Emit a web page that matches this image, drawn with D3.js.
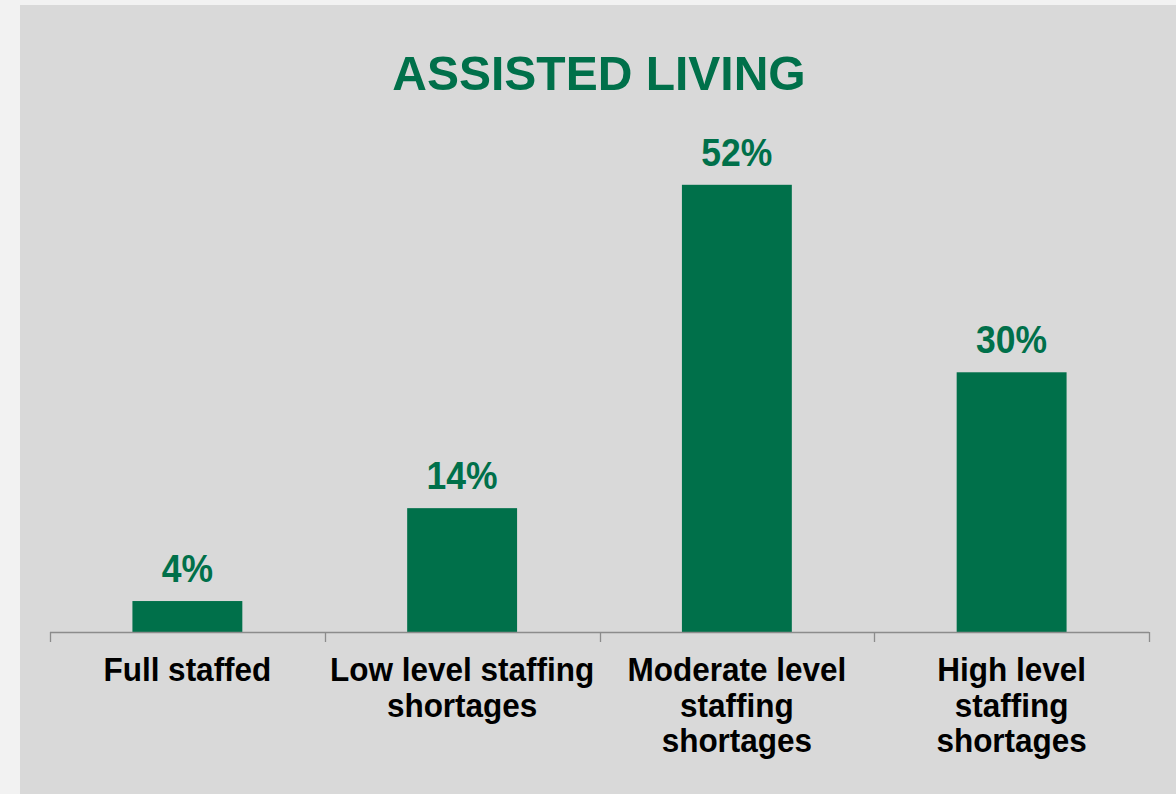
<!DOCTYPE html>
<html>
<head>
<meta charset="utf-8">
<script src="https://cdn.jsdelivr.net/npm/d3@7"></script>
<style>
  html, body { margin: 0; padding: 0; background: #f2f2f2; }
  svg { display: block; }
</style>
</head>
<body>
<svg id="chart" width="1176" height="794"></svg>
<script>
const title = "ASSISTED LIVING";
const categories = ["Full staffed", "Low level staffing shortages", "Moderate level staffing shortages", "High level staffing shortages"];
const categoryLines = [
  ["Full staffed"],
  ["Low level staffing", "shortages"],
  ["Moderate level", "staffing", "shortages"],
  ["High level", "staffing", "shortages"]
];
const values = [0.036, 0.144, 0.52, 0.302];

const W = 1176, H = 794;
const green = "#00704a";
const font = "Liberation Sans, Arial, sans-serif";
const svg = d3.select("#chart");

svg.append("rect").attr("x", 0).attr("y", 0).attr("width", W).attr("height", H).attr("fill", "#f2f2f2");
svg.append("rect").attr("x", 20).attr("y", 5).attr("width", W - 20).attr("height", H - 5).attr("fill", "#d9d9d9");

const x = d3.scaleBand().domain(categories).range([50, 1149]).paddingInner(0.6).paddingOuter(0.3);
const y = d3.scaleLinear().domain([0, 0.6]).range([632, 116]);
const fmt = d3.format(".0%");

svg.append("text")
  .attr("transform", "translate(599,90) scale(1,1.02)")
  .attr("text-anchor", "middle")
  .attr("font-family", font)
  .attr("font-weight", "bold").attr("font-size", 48)
  .attr("fill", green)
  .text(title);

svg.selectAll("rect.bar").data(values).join("rect")
  .attr("class", "bar")
  .attr("x", (d, i) => x(categories[i]))
  .attr("width", x.bandwidth())
  .attr("y", d => y(d))
  .attr("height", d => y(0) - y(d))
  .attr("fill", green);

svg.selectAll("text.val").data(values).join("text")
  .attr("class", "val")
  .attr("transform", (d, i) => `translate(${x(categories[i]) + x.bandwidth() / 2},${y(d) - 19}) scale(1,1.08)`)
  .attr("text-anchor", "middle")
  .attr("font-family", font)
  .attr("font-weight", "bold").attr("font-size", 35.5)
  .attr("fill", green)
  .text(d => fmt(d));

// axis
const axisG = svg.append("g");
const r = x.range();
axisG.append("line").attr("x1", r[0]).attr("x2", r[1]).attr("y1", y(0) + 0.5).attr("y2", y(0) + 0.5)
  .attr("stroke", "#8c8c8c").attr("stroke-width", 1.3);
const bounds = d3.range(categories.length + 1).map(i => r[0] + i * x.step());
axisG.selectAll("line.tick").data(bounds).join("line")
  .attr("class", "tick")
  .attr("x1", d => Math.round(d) + 0.5).attr("x2", d => Math.round(d) + 0.5)
  .attr("y1", y(0)).attr("y2", y(0) + 10)
  .attr("stroke", "#8c8c8c").attr("stroke-width", 1.3);

categories.forEach((c, i) => {
  const cx = x(c) + x.bandwidth() / 2;
  categoryLines[i].forEach((line, j) => {
    svg.append("text")
      .attr("class", "cat")
      .attr("transform", `translate(${cx},${681 + j * 35.5}) scale(1,1.08)`)
      .attr("text-anchor", "middle")
      .attr("font-family", font)
      .attr("font-weight", "bold").attr("font-size", 31.5)
      .attr("fill", "#000")
      .text(line);
  });
});
</script>
</body>
</html>
